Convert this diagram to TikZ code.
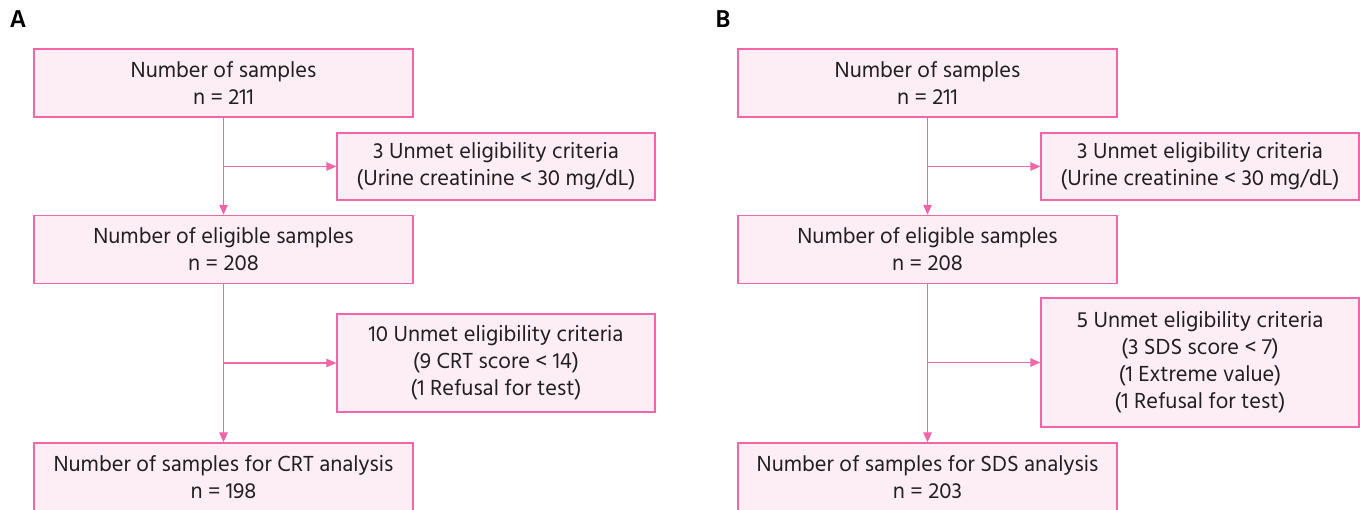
\documentclass[tikz,border=0pt]{standalone}
\usepackage{fontspec}
\setmainfont{Hind Madurai}
\usetikzlibrary{arrows.meta,calc}
\definecolor{pinkline}{HTML}{F266A8}
\definecolor{pinkfill}{HTML}{FDEEF5}
\definecolor{txt}{HTML}{231F20}
\begin{document}
\begin{tikzpicture}[x=1pt,y=-1pt,
  box/.style={draw=pinkline,fill=pinkfill,line width=1.4pt,inner sep=0pt,
    align=center,text=txt,font=\fontsize{22.4}{27}\selectfont},
  mainbox/.style={box,minimum width=379pt,minimum height=68pt},
  sidebox/.style={box,minimum width=318pt},
  arr/.style={draw=pinkline,line width=1.4pt,-{Triangle[length=10pt,width=8.5pt]}},
  panel/.style={text=black,font=\fontsize{25}{25}\selectfont\bfseries,inner sep=0pt}]
\useasboundingbox (0,0) rectangle (1360,510);
\clip (0,0) rectangle (1360,510);
% Panel A
\node[panel,anchor=base west] (labA) at (9.5,27.5) {A};
\node[mainbox] (a1) at (223.5,83) {Number of samples\\n = 211};
\node[sidebox,minimum height=67pt] (as1) at (496,166.5) {3 Unmet eligibility criteria\\(Urine creatinine < 30 mg/dL)};
\node[mainbox] (a2) at (223.5,249.5) {Number of eligible samples\\n = 208};
\node[sidebox,minimum height=98pt] (as2) at (496,363) {10 Unmet eligibility criteria\\(9 CRT score < 14)\\(1 Refusal for test)};
\node[mainbox] (a3) at (223.5,477) {Number of samples for CRT analysis\\n = 198};
\draw[arr] (a1.south) -- (a2.north);
\draw[arr] (a2.south) -- (a3.north);
\draw[arr] (as1.west -| a1.south) -- (as1.west);
\draw[arr] (as2.west -| a2.south) -- (as2.west);
% Panel B
\node[panel,anchor=base west] (labB) at (715.5,27.5) {B};
\node[mainbox] (b1) at (927.5,83) {Number of samples\\n = 211};
\node[sidebox,minimum height=67pt] (bs1) at (1200,166.5) {3 Unmet eligibility criteria\\(Urine creatinine < 30 mg/dL)};
\node[mainbox] (b2) at (927.5,249.5) {Number of eligible samples\\n = 208};
\node[sidebox,minimum height=129pt] (bs2) at (1200,362.5) {5 Unmet eligibility criteria\\(3 SDS score < 7)\\(1 Extreme value)\\(1 Refusal for test)};
\node[mainbox] (b3) at (927.5,477) {Number of samples for SDS analysis\\n = 203};
\draw[arr] (b1.south) -- (b2.north);
\draw[arr] (b2.south) -- (b3.north);
\draw[arr] (bs1.west -| b1.south) -- (bs1.west);
\draw[arr] (bs2.west -| b2.south) -- (bs2.west);
\end{tikzpicture}
\end{document}
